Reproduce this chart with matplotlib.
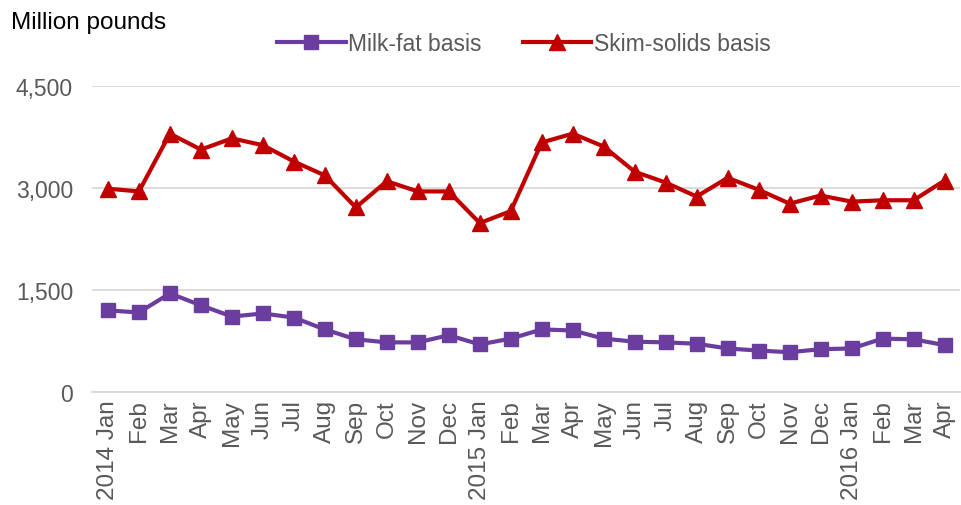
import matplotlib.pyplot as plt

plt.rcParams['font.family'] = ['Liberation Sans', 'DejaVu Sans']

months = ["2014 Jan", "Feb", "Mar", "Apr", "May", "Jun", "Jul", "Aug", "Sep", "Oct", "Nov", "Dec",
          "2015 Jan", "Feb", "Mar", "Apr", "May", "Jun", "Jul", "Aug", "Sep", "Oct", "Nov", "Dec",
          "2016 Jan", "Feb", "Mar", "Apr"]

milk_fat = [1200, 1170, 1450, 1275, 1110, 1155, 1095, 920, 775, 730, 730, 835,
            700, 785, 920, 905, 785, 740, 730, 710, 640, 610, 585, 630,
            640, 785, 775, 690]

skim_solids = [2990, 2950, 3800, 3565, 3730, 3630, 3390, 3185, 2715, 3100, 2950, 2950,
               2485, 2660, 3670, 3800, 3610, 3240, 3080, 2875, 3150, 2975, 2770, 2890,
               2800, 2820, 2820, 3110]

purple = "#6A3D9E"
red = "#C00000"

fig = plt.figure(figsize=(9.61, 5.06), dpi=100)
ax = fig.add_axes([0.0962, 0.2233, 0.9028, 0.6047])

x = list(range(len(months)))
ax.plot(x, milk_fat, color=purple, lw=3, marker="s", ms=10.5, label="Milk-fat basis")
ax.plot(x, skim_solids, color=red, lw=3, marker="^", ms=11, label="Skim-solids basis")

ax.set_xlim(-0.5, len(months) - 0.5)
ax.set_ylim(0, 4500)
ax.set_yticks([0, 1500, 3000, 4500])
ax.set_yticklabels(["0", "1,500", "3,000", "4,500"])
ax.set_xticks(x)
ax.set_xticklabels(months, rotation=90)
ax.tick_params(axis="both", length=0, labelsize=16.5, labelcolor="#595959")
ax.tick_params(axis="x", pad=5, labelsize=17.5)
ax.tick_params(axis="y", pad=14)

ax.grid(axis="y", color="#D9D9D9", lw=1.3)
ax.set_axisbelow(True)
for s in ["top", "right", "left"]:
    ax.spines[s].set_visible(False)
ax.spines["bottom"].set_color("#D9D9D9")
ax.spines["bottom"].set_linewidth(1.3)

fig.text(0.011, 0.955, "Million pounds", fontsize=17.5, color="black", va="center")
fig.legend(loc="center", bbox_to_anchor=(0.545, 0.913), ncol=2, frameon=False,
           fontsize=16.5, handlelength=3, handletextpad=0.1, columnspacing=1.8,
           labelcolor="#595959")

fig.savefig("out.png", dpi=100)
